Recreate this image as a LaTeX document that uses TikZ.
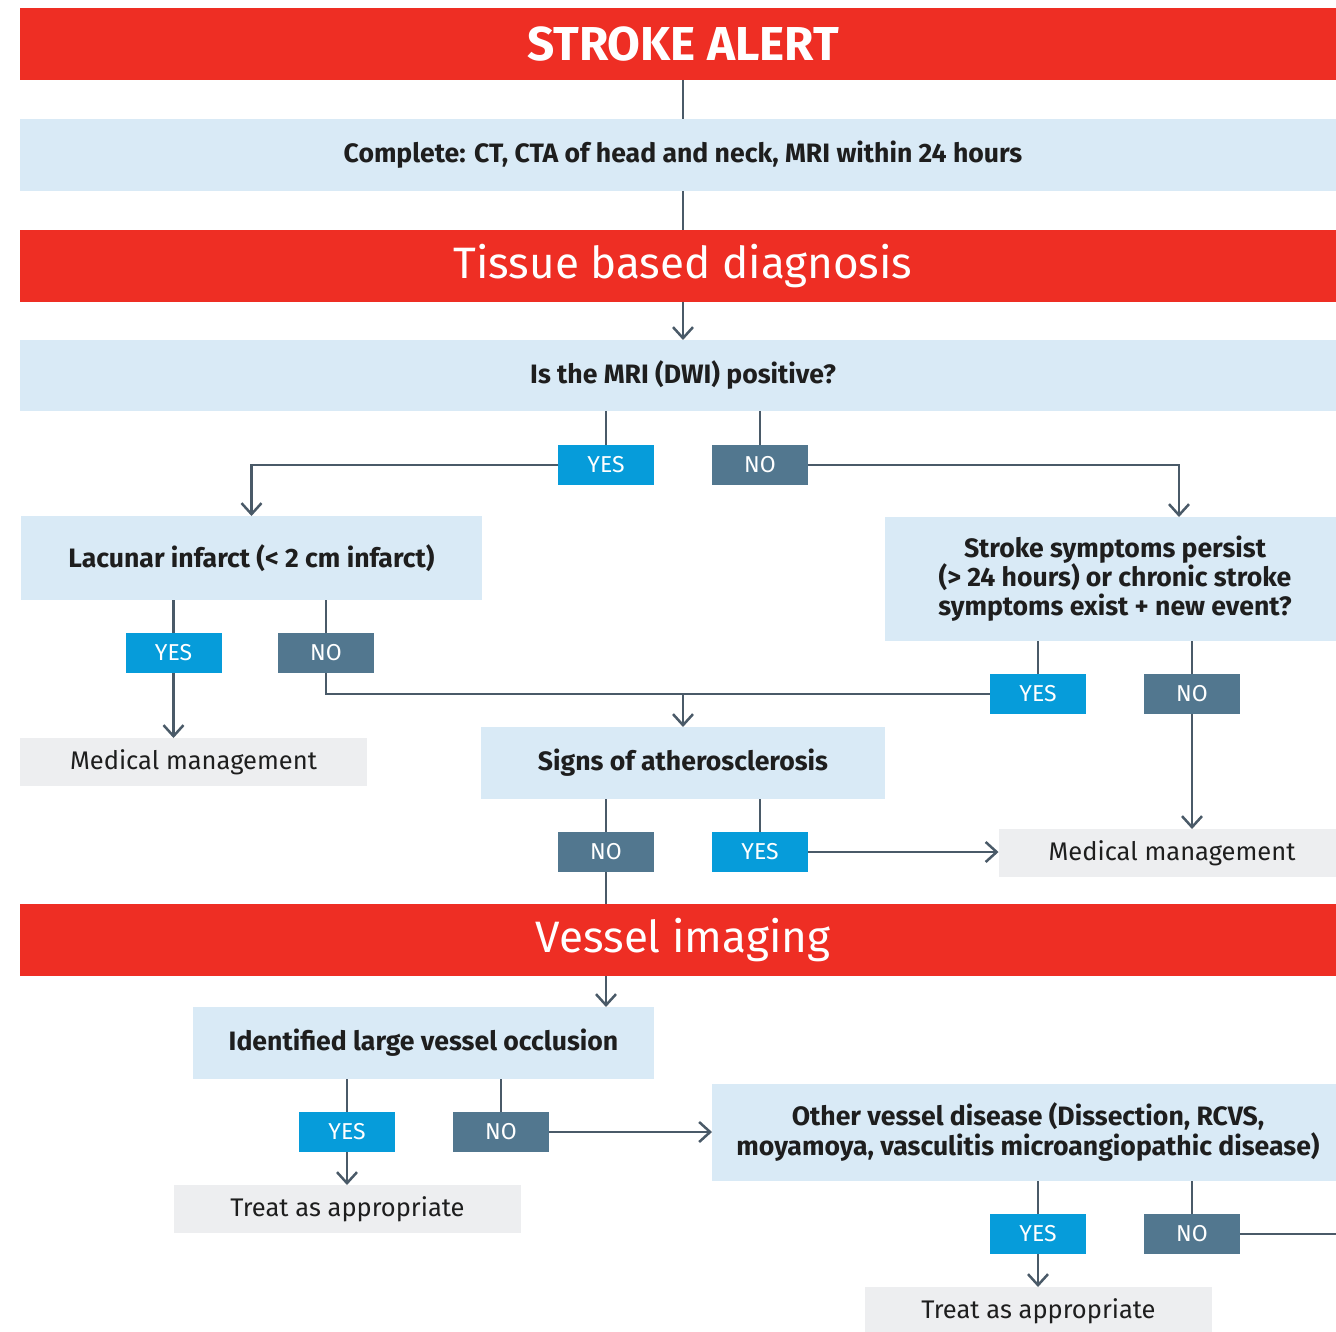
\documentclass[tikz,border=0pt]{standalone}
\usepackage{fontspec}
\setmainfont{Fira Sans}
\usetikzlibrary{arrows.meta,calc}
\definecolor{alertred}{HTML}{EE2E24}
\definecolor{lightblue}{HTML}{D9EAF6}
\definecolor{yesblue}{HTML}{069CDA}
\definecolor{noslate}{HTML}{52778F}
\definecolor{greybox}{HTML}{EDEEF0}
\definecolor{linecol}{HTML}{4A5A68}
\definecolor{txt}{HTML}{1E1E1E}
\tikzset{
  base/.style={inner sep=0pt,outer sep=0pt,align=center},
  redband/.style={base,fill=alertred,text=white,minimum height=36pt},
  question/.style={base,fill=lightblue,text=txt,font=\bfseries\fontsize{13.3}{15}\selectfont},
  outcome/.style={base,fill=greybox,text=txt,minimum width=173.5pt,minimum height=24pt,font=\fontsize{12.75}{15}\selectfont},
  yesbox/.style={base,fill=yesblue,text=white,minimum width=48pt,minimum height=20pt,font=\fontsize{11.5}{13}\selectfont},
  nobox/.style={base,fill=noslate,text=white,minimum width=48pt,minimum height=20pt,font=\fontsize{11.5}{13}\selectfont},
  conn/.style={draw=linecol,line width=1.25pt},
  arr/.style={conn,-{Straight Barb[length=5.5pt,width=10pt,line width=1.25pt]}}
}
\begin{document}
\begin{tikzpicture}[x=0.5pt,y=-0.5pt]
\useasboundingbox (0,0) rectangle (1336,1331);
\clip (0,0) rectangle (1336,1331);
\fill[white] (0,0) rectangle (1336,1331);
% bands and boxes
\node[redband,minimum width=663pt,font=\bfseries\fontsize{23.8}{26}\selectfont] (alert) at (683,44) {STROKE ALERT};
\node[question,minimum width=663pt,minimum height=36pt] (complete) at (683,155) {Complete: CT, CTA of head and neck, MRI within 24 hours};
\node[redband,minimum width=663pt,font=\fontsize{22}{26}\selectfont] (tissue) at (683,266) {Tissue based diagnosis};
\node[question,minimum width=663pt,minimum height=35.5pt] (mri) at (683,375.5) {Is the MRI (DWI) positive?};
\node[yesbox] (mriY) at (606,465) {YES};
\node[nobox] (mriN) at (760,465) {NO};
\node[question,minimum width=230.5pt,minimum height=42pt] (lac) at (251.5,558) {Lacunar infarct (< 2 cm infarct)};
\node[question,minimum width=230pt,minimum height=62pt,font=\bfseries\fontsize{13.3}{14.5}\selectfont] (str) at (1115,579) {Stroke symptoms persist\\(> 24 hours) or chronic stroke\\symptoms exist + new event?};
\node[yesbox] (lacY) at (173.5,653) {YES};
\node[nobox] (lacN) at (326,653) {NO};
\node[yesbox] (strY) at (1038,694) {YES};
\node[nobox] (strN) at (1192,694) {NO};
\node[outcome] (medL) at (193.5,762) {Medical management};
\node[question,minimum width=202pt,minimum height=36pt] (sig) at (683,763) {Signs of atherosclerosis};
\node[nobox] (sigN) at (606,852) {NO};
\node[yesbox] (sigY) at (760,852) {YES};
\node[outcome] (medR) at (1172,853) {Medical management};
\node[redband,minimum width=663pt,font=\fontsize{22}{26}\selectfont] (vessel) at (683,940) {Vessel imaging};
\node[question,minimum width=230.5pt,minimum height=36pt] (ident) at (423.5,1043) {Identified large vessel occlusion};
\node[yesbox] (idY) at (347,1132) {YES};
\node[nobox] (idN) at (501,1132) {NO};
\node[question,minimum width=316pt,minimum height=48.5pt,font=\bfseries\fontsize{13.3}{15}\selectfont] (oth) at (1028,1132.5) {Other vessel disease (Dissection, RCVS,\\moyamoya, vasculitis microangiopathic disease)};
\node[outcome] (treatL) at (347.5,1209) {Treat as appropriate};
\node[yesbox] (othY) at (1038,1234) {YES};
\node[nobox] (othN) at (1192,1234) {NO};
\node[outcome] (treatR) at (1038.5,1311) {Treat as appropriate};
\coordinate (offR) at (1345,1234);
% connectors
\draw[conn] (alert.south) -- (complete.north);
\draw[conn] (complete.south) -- (tissue.north);
\draw[arr] (tissue.south) -- (mri.north);
\draw[conn] (mri.south -| mriY) -- (mriY.north);
\draw[conn] (mri.south -| mriN) -- (mriN.north);
\draw[arr] (mriY.west) -| (lac.north);
\draw[arr] (mriN.east) -| ([xshift=32pt]str.north);
\draw[conn] (lac.south -| lacY) -- (lacY.north);
\draw[conn] (lac.south -| lacN) -- (lacN.north);
\draw[arr] (lacY.south) -- (lacY.south |- medL.north);
\draw[conn] (lacN.south) |- (strY.west);
\draw[arr] (sig.north |- strY.west) -- (sig.north);
\draw[conn] (str.south -| strY) -- (strY.north);
\draw[conn] (str.south -| strN) -- (strN.north);
\draw[arr] (strN.south) -- (strN.south |- medR.north);
\draw[conn] (sig.south -| sigN) -- (sigN.north);
\draw[conn] (sig.south -| sigY) -- (sigY.north);
\draw[arr] (sigY.east) -- (sigY.east -| medR.west);
\draw[conn] (sigN.south) -- (sigN.south |- vessel.north);
\draw[arr] (sigN.south |- vessel.south) -- (sigN.south |- ident.north);
\draw[conn] (ident.south -| idY) -- (idY.north);
\draw[conn] (ident.south -| idN) -- (idN.north);
\draw[arr] (idY.south) -- (idY.south |- treatL.north);
\draw[arr] (idN.east) -- (idN.east -| oth.west);
\draw[conn] (oth.south -| othY) -- (othY.north);
\draw[conn] (oth.south -| othN) -- (othN.north);
\draw[arr] (othY.south) -- (othY.south |- treatR.north);
\draw[conn] (othN.east) -- (offR);
\end{tikzpicture}
\end{document}
